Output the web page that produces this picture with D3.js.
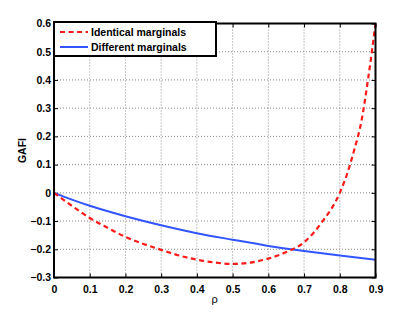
<!DOCTYPE html>
<html>
<head>
<meta charset="utf-8">
<script src="https://cdn.jsdelivr.net/npm/d3@7"></script>
<style>
body{margin:0;background:#fff;}
text{font-family:"Liberation Sans",Arial,sans-serif;}
</style>
</head>
<body>
<svg id="chart"></svg>
<script>
// values
const rho_red = [0,0.05,0.1,0.15,0.2,0.25,0.3,0.35,0.4,0.45,0.5,0.55,0.6,0.65,0.7,0.75,0.8,0.82,0.84,0.86,0.88,0.9]
const gafi_identical = [0,-0.046,-0.089,-0.124,-0.156,-0.181,-0.202,-0.222,-0.237,-0.247,-0.252,-0.247,-0.233,-0.21,-0.175,-0.104,0,0.065,0.15,0.25,0.41,0.6]
const rho_blue = [0,0.05,0.1,0.2,0.3,0.4,0.5,0.6,0.7,0.8,0.9]
const gafi_different = [0,-0.024,-0.046,-0.083,-0.115,-0.143,-0.166,-0.188,-0.206,-0.222,-0.237]
const xticks = [0,0.1,0.2,0.3,0.4,0.5,0.6,0.7,0.8,0.9]
const yticks = [-0.3,-0.2,-0.1,0,0.1,0.2,0.3,0.4,0.5,0.6]
const legend_labels = ["Identical marginals","Different marginals"]

const width = 415, height = 313
const margin = {top:23.5,right:39.5,bottom:35.5,left:54}
const w = width-margin.left-margin.right
const h = height-margin.top-margin.bottom

const svg = d3.select("#chart").attr("width",width).attr("height",height)
const g = svg.append("g").attr("transform",`translate(${margin.left},${margin.top})`)

const x = d3.scaleLinear().domain([0,0.9]).range([0,w])
const y = d3.scaleLinear().domain([-0.3,0.6]).range([h,0])

const fmt = d=> d<0 ? "\u2212"+Math.abs(d) : String(d)

// dotted grid
g.append("g").selectAll("line")
    .data(xticks.slice(1,-1))
    .join("line")
    .attr("x1",d=>x(d)).attr("x2",d=>x(d))
    .attr("y1",0).attr("y2",h)
    .attr("stroke","#8a8a8a").attr("stroke-width",1).attr("stroke-dasharray","1,2")
g.append("g").selectAll("line")
    .data(yticks.slice(1,-1))
    .join("line")
    .attr("y1",d=>y(d)).attr("y2",d=>y(d))
    .attr("x1",0).attr("x2",w)
    .attr("stroke","#8a8a8a").attr("stroke-width",1).attr("stroke-dasharray","1,2")

// axes, ticks inward
const styleAxis = sel=>{
    sel.select(".domain").remove()
    sel.selectAll("line").attr("stroke","#000").attr("stroke-width",1)
    sel.selectAll("text").attr("font-size","10.5px").attr("font-weight","bold").attr("fill","#000")
}
g.append("g").attr("transform",`translate(0,${h})`)
    .call(d3.axisBottom(x).tickValues(xticks).tickFormat(fmt).tickSizeInner(-4).tickPadding(8))
    .call(styleAxis)
g.append("g").attr("transform",`translate(0,0)`)
    .call(d3.axisTop(x).tickValues(xticks).tickFormat("").tickSizeInner(-4))
    .call(styleAxis)
g.append("g")
    .call(d3.axisLeft(y).tickValues(yticks).tickFormat(fmt).tickSizeInner(-4).tickPadding(3))
    .call(styleAxis)
g.append("g").attr("transform",`translate(${w},0)`)
    .call(d3.axisRight(y).tickValues(yticks).tickFormat("").tickSizeInner(-4))
    .call(styleAxis)

// curves
const line = d3.line().x(d=>x(d[0])).y(d=>y(d[1])).curve(d3.curveMonotoneX)
g.append("path")
    .datum(rho_blue.map((r,i)=>[r,gafi_different[i]]))
    .attr("d",line)
    .attr("fill","none").attr("stroke","#3355ff").attr("stroke-width",2)
g.append("path")
    .datum(rho_red.map((r,i)=>[r,gafi_identical[i]]))
    .attr("d",line)
    .attr("fill","none").attr("stroke","#ff1a1a").attr("stroke-width",2.2)
    .attr("stroke-dasharray","5,3.5")

// box
g.append("rect").attr("x",0).attr("y",0).attr("width",w).attr("height",h)
    .attr("fill","none").attr("stroke","#000").attr("stroke-width",2)

// legend
const lg = svg.append("g").attr("transform","translate(54,22)")
lg.append("rect").attr("width",162).attr("height",34)
    .attr("fill","#fff").attr("stroke","#000").attr("stroke-width",2)
const items = lg.selectAll(".item")
    .data(legend_labels)
    .join("g")
    .attr("transform",(d,i)=>`translate(0,${10+i*15})`)
items.append("line")
    .attr("x1",6).attr("x2",34).attr("y1",0).attr("y2",0)
    .attr("stroke",(d,i)=>i==0?"#ff1a1a":"#3355ff")
    .attr("stroke-width",2)
    .attr("stroke-dasharray",(d,i)=>i==0?"5,3.5":null)
items.append("text")
    .attr("x",37).attr("y",4)
    .attr("font-size","10.5px").attr("font-weight","bold")
    .text(d=>d)

// axis titles
svg.append("text")
    .attr("x",margin.left+w/2).attr("y",303)
    .attr("text-anchor","middle").attr("font-size","11px")
    .text("ρ")
svg.append("text")
    .attr("transform",`translate(26,${margin.top+h/2}) rotate(-90)`)
    .attr("text-anchor","middle").attr("font-size","10.5px").attr("font-weight","bold")
    .text("GAFI")
</script>
</body>
</html>
